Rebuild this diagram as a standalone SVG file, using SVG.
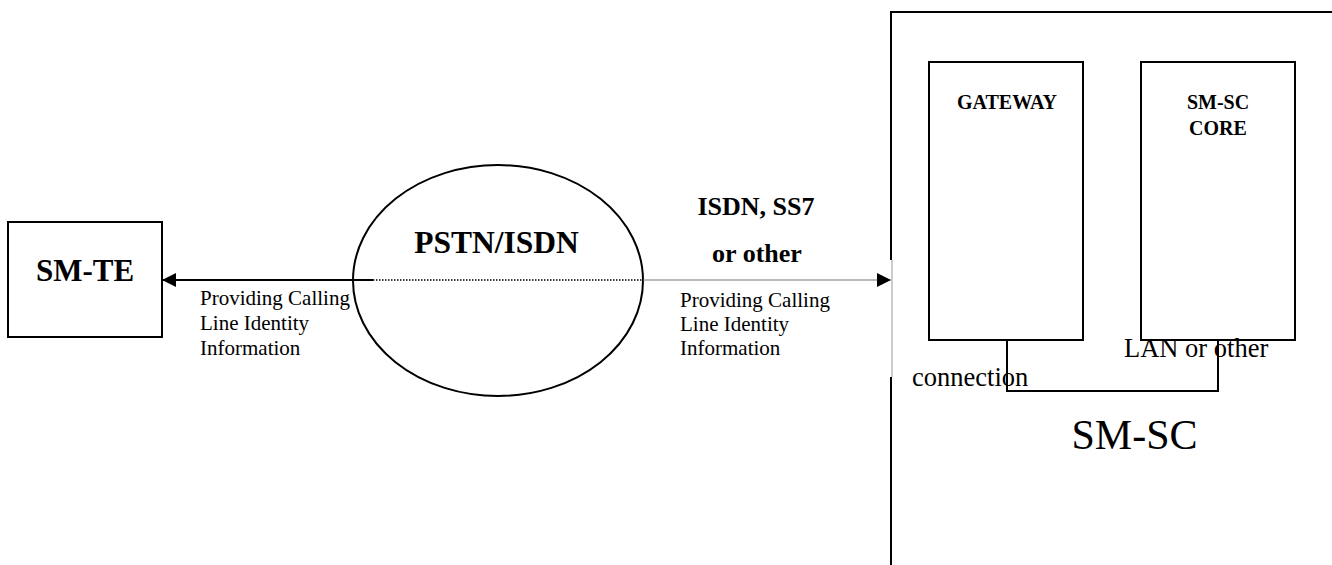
<svg xmlns="http://www.w3.org/2000/svg" width="1332" height="565" viewBox="0 0 1332 565">
<style>
.box{fill:#fff;stroke:#000;stroke-width:2}
.b{font-family:"Liberation Serif",serif;font-weight:bold;fill:#000}
.r{font-family:"Liberation Serif",serif;fill:#000}
</style>
<defs>
<marker id="ah" viewBox="0 0 10 10" refX="10" refY="5" markerWidth="16" markerHeight="14" markerUnits="userSpaceOnUse" orient="auto">
<path d="M0,0 L10,5 L0,10 Z" fill="#000"/>
</marker>
</defs>
<rect width="1332" height="565" fill="#fff"/>
<g id="smsc">
<path d="M891,260 V12 H1332" fill="none" stroke="#000" stroke-width="2"/>
<path d="M891,377 V565" fill="none" stroke="#000" stroke-width="2"/>
<line x1="892" y1="260" x2="892" y2="377" stroke="#999" stroke-width="1"/>
<text class="r" x="1134.5" y="449" font-size="42" text-anchor="middle">SM-SC</text>
</g>
<g id="smte">
<rect class="box" x="8" y="222" width="154" height="115"/>
<text class="b" x="85" y="281" font-size="31" text-anchor="middle">SM-TE</text>
</g>
<g id="pstn">
<ellipse cx="498" cy="280.5" rx="145" ry="115.5" fill="none" stroke="#000" stroke-width="2"/>
<text class="b" x="496.5" y="253" font-size="31.5" text-anchor="middle">PSTN/ISDN</text>
</g>
<g id="gateway">
<rect class="box" x="929" y="62" width="154" height="278"/>
<text class="b" x="1007" y="109" font-size="20" text-anchor="middle">GATEWAY</text>
</g>
<g id="core">
<rect class="box" x="1141" y="62" width="154" height="278"/>
<text class="b" x="1218" y="109" font-size="20" text-anchor="middle">SM-SC</text>
<text class="b" x="1218" y="135" font-size="20" text-anchor="middle">CORE</text>
</g>
<g id="connectors">
<line x1="373" y1="280" x2="162" y2="280" stroke="#000" stroke-width="2" marker-end="url(#ah)"/>
<line x1="373" y1="280" x2="643" y2="280" stroke="#000" stroke-width="1.5" stroke-dasharray="1.5,1.5"/>
<line x1="643" y1="280" x2="891" y2="280" stroke="#777" stroke-width="1" marker-end="url(#ah)"/>
<path d="M1007,340 V391 H1218 V340" fill="none" stroke="#000" stroke-width="2"/>
<text class="r" font-size="21" x="200" y="305">Providing Calling</text>
<text class="r" font-size="21" x="200" y="330">Line Identity</text>
<text class="r" font-size="21" x="200" y="355">Information</text>
<text class="r" font-size="21" x="680" y="306.5">Providing Calling</text>
<text class="r" font-size="21" x="680" y="330.5">Line Identity</text>
<text class="r" font-size="21" x="680" y="355">Information</text>
<text class="b" font-size="26" x="756" y="215" text-anchor="middle">ISDN, SS7</text>
<text class="b" font-size="26" x="757" y="262" text-anchor="middle">or other</text>
<text class="r" font-size="26.5" x="1124" y="357">LAN or other</text>
<text class="r" font-size="26.5" x="912" y="386">connection</text>
</g>
</svg>
